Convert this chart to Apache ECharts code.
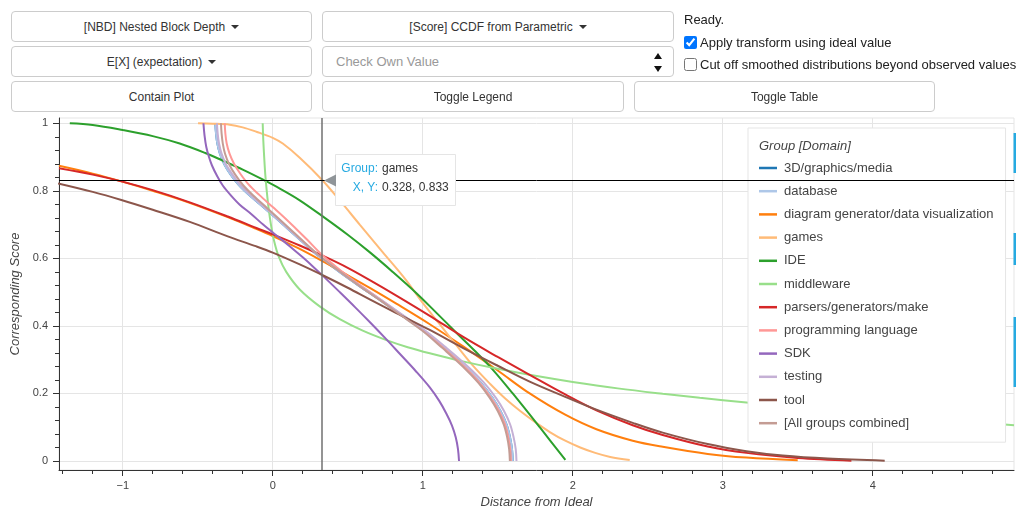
<!DOCTYPE html>
<html>
<head>
<meta charset="utf-8">
<script src="https://cdn.jsdelivr.net/npm/echarts@6/dist/echarts.min.js"></script>
<style>
  html, body { margin: 0; padding: 0; background: #fff; }
  #wrap { position: relative; width: 1019px; height: 507px; overflow: hidden; font-family: "Liberation Sans", Arial, sans-serif; }
  #chart { position: absolute; left: 0; top: 0; width: 1019px; height: 507px; }
  .ctl { position: absolute; z-index: 2; box-sizing: border-box; }
  .btn { border: 1px solid #ccc; border-radius: 4px; background: #fff; color: #333; font-size: 12px;
         display: flex; align-items: center; justify-content: center; }
  .caret { display: inline-block; width: 0; height: 0; margin-left: 6px; border-left: 4px solid transparent;
           border-right: 4px solid transparent; border-top: 4px solid #333; }
  .inp { border: 1px solid #ccc; border-radius: 4px; background: #fff; color: #999; font-size: 13px;
         display: flex; align-items: center; padding-left: 13px; }
  .spin { position: absolute; width: 0; height: 0; border-left: 4px solid transparent; border-right: 4px solid transparent; }
  .txt { position: absolute; z-index: 2; font-size: 13px; color: #222; white-space: nowrap; }
  .cb { position: absolute; z-index: 2; font-size: 13px; color: #222; white-space: nowrap; display: flex; align-items: center; }
  .cb input { margin: 0 3px 0 0; width: 13px; height: 13px; }
</style>
</head>
<body>
<div id="wrap">
  <div id="chart"></div>
  <div class="ctl btn" style="left:11px;top:11px;width:301px;height:31px;">[NBD] Nested Block Depth<span class="caret"></span></div>
  <div class="ctl btn" style="left:322px;top:11px;width:352px;height:31px;">[Score] CCDF from Parametric<span class="caret"></span></div>
  <div class="ctl btn" style="left:11px;top:46px;width:301px;height:31px;">E[X] (expectation)<span class="caret"></span></div>
  <div class="ctl inp" style="left:322px;top:46px;width:352px;height:31px;">Check Own Value
    <span class="spin" style="left:331px;top:6px;border-bottom:6px solid #111;"></span>
    <span class="spin" style="left:331px;top:19px;border-top:6px solid #111;"></span>
  </div>
  <div class="ctl btn" style="left:11px;top:81px;width:301px;height:31px;">Contain Plot</div>
  <div class="ctl btn" style="left:322px;top:81px;width:302px;height:31px;">Toggle Legend</div>
  <div class="ctl btn" style="left:634px;top:81px;width:301px;height:31px;">Toggle Table</div>
  <div class="txt" style="left:684px;top:12px;">Ready.</div>
  <label class="cb" style="left:684px;top:35px;"><input type="checkbox" checked>Apply transform using ideal value</label>
  <label class="cb" style="left:684px;top:57px;"><input type="checkbox">Cut off smoothed distributions beyond observed values</label>
</div>
<script>
// ---- Data ----
const seriesNames = ['3D/graphics/media','database','diagram generator/data visualization','games','IDE','middleware',
  'parsers/generators/make','programming language','SDK','testing','tool','[All groups combined]'];
const seriesColors = ['#1f77b4','#aec7e8','#ff7f0e','#ffbb78','#2ca02c','#98df8a','#d62728','#ff9896','#9467bd','#c5b0d5','#8c564b','#c49c94'];

const graphics3D = [[-0.383,1.0],[-0.378,0.97],[-0.369,0.94],[-0.352,0.91],[-0.322,0.878],[-0.28,0.848],[-0.227,0.818],[-0.153,0.786],[-0.058,0.75],[0.015,0.722],[0.1,0.688],[0.19,0.652],[0.305,0.607],[0.445,0.56],[0.578,0.518],[0.714,0.477],[0.853,0.433],[1.006,0.385],[1.14,0.335],[1.28,0.28],[1.386,0.232],[1.465,0.187],[1.518,0.148],[1.559,0.108],[1.582,0.07],[1.595,0.035],[1.6,0.0]];
const database = [[-0.383,1.0],[-0.378,0.97],[-0.369,0.94],[-0.352,0.91],[-0.322,0.878],[-0.28,0.848],[-0.227,0.818],[-0.153,0.786],[-0.058,0.75],[0.015,0.722],[0.1,0.688],[0.19,0.652],[0.305,0.607],[0.445,0.56],[0.578,0.518],[0.714,0.477],[0.853,0.433],[1.006,0.385],[1.14,0.335],[1.28,0.28],[1.386,0.232],[1.465,0.187],[1.518,0.148],[1.559,0.108],[1.582,0.07],[1.595,0.035],[1.6,0.0]];
const diagramGen = [[-1.425,0.874],[-1.2,0.851],[-1.009,0.828],[-0.8,0.8],[-0.564,0.766],[-0.3,0.722],[-0.12,0.689],[0,0.666],[0.18,0.628],[0.347,0.588],[0.5,0.55],[0.65,0.512],[0.824,0.466],[1.047,0.405],[1.267,0.34],[1.5,0.268],[1.713,0.2],[1.95,0.137],[2.158,0.094],[2.4,0.06],[2.6,0.042],[2.9,0.021],[3.158,0.01],[3.5,0.002]];
const games = [[-0.498,1.0],[-0.4,0.999],[-0.287,0.996],[-0.2,0.988],[-0.109,0.975],[0,0.957],[0.067,0.94],[0.18,0.898],[0.328,0.833],[0.45,0.77],[0.58,0.70],[0.73,0.62],[0.89,0.535],[1.0,0.468],[1.113,0.405],[1.22,0.345],[1.333,0.283],[1.45,0.228],[1.55,0.185],[1.65,0.148],[1.75,0.115],[1.85,0.085],[1.95,0.06],[2.05,0.04],[2.15,0.024],[2.25,0.012],[2.38,0.003]];
const ide = [[-1.353,1.0],[-1.2,0.995],[-1.0,0.98],[-0.8,0.962],[-0.62,0.94],[-0.45,0.912],[-0.331,0.889],[-0.2,0.863],[-0.064,0.833],[0.05,0.806],[0.18,0.772],[0.347,0.72],[0.5,0.67],[0.65,0.617],[0.8,0.56],[0.958,0.497],[1.1,0.435],[1.224,0.38],[1.35,0.325],[1.468,0.27],[1.6,0.2],[1.78,0.1],[1.951,0.003]];
const middleware = [[-0.067,1.0],[-0.063,0.95],[-0.057,0.9],[-0.05,0.85],[-0.04,0.8],[-0.028,0.75],[-0.012,0.7],[0.01,0.65],[0.04,0.605],[0.09,0.56],[0.18,0.508],[0.313,0.458],[0.447,0.42],[0.6,0.386],[0.758,0.358],[0.9,0.337],[1.047,0.319],[1.267,0.295],[1.5,0.273],[1.78,0.25],[2.0,0.234],[2.3,0.215],[2.6,0.199],[2.847,0.187],[3.158,0.173],[3.5,0.158],[4.0,0.138],[4.5,0.121],[4.942,0.106]];
const parsers = [[-1.425,0.867],[-1.2,0.848],[-1.009,0.828],[-0.8,0.802],[-0.553,0.766],[-0.3,0.724],[-0.109,0.69],[0,0.671],[0.18,0.638],[0.347,0.605],[0.5,0.572],[0.65,0.535],[0.824,0.49],[1.047,0.43],[1.267,0.368],[1.5,0.308],[1.713,0.255],[1.95,0.197],[2.158,0.15],[2.4,0.106],[2.6,0.077],[2.9,0.043],[3.158,0.024],[3.5,0.009],[3.858,0.001]];
const progLang = [[-0.32,1.0],[-0.316,0.97],[-0.307,0.94],[-0.288,0.91],[-0.258,0.88],[-0.215,0.85],[-0.163,0.82],[-0.09,0.788],[0.0,0.752],[0.07,0.724],[0.15,0.69],[0.23,0.655],[0.325,0.612],[0.455,0.563],[0.585,0.52],[0.716,0.479],[0.853,0.435],[1.004,0.386],[1.135,0.336],[1.272,0.281],[1.376,0.233],[1.453,0.188],[1.507,0.149],[1.547,0.109],[1.57,0.07],[1.583,0.035],[1.588,0.0]];
const sdk = [[-0.462,1.0],[-0.455,0.965],[-0.443,0.93],[-0.425,0.9],[-0.405,0.875],[-0.37,0.843],[-0.332,0.815],[-0.28,0.787],[-0.22,0.759],[-0.14,0.73],[-0.064,0.70],[0.047,0.66],[0.113,0.636],[0.2,0.603],[0.28,0.571],[0.347,0.543],[0.447,0.5],[0.55,0.455],[0.65,0.41],[0.758,0.36],[0.85,0.316],[0.95,0.268],[1.047,0.218],[1.11,0.178],[1.158,0.14],[1.195,0.105],[1.22,0.07],[1.235,0.035],[1.242,0.0]];
const testing = [[-0.372,1.0],[-0.367,0.97],[-0.358,0.94],[-0.341,0.91],[-0.311,0.878],[-0.268,0.848],[-0.216,0.818],[-0.143,0.786],[-0.05,0.75],[0.022,0.722],[0.106,0.688],[0.195,0.652],[0.31,0.607],[0.45,0.56],[0.585,0.518],[0.722,0.477],[0.865,0.433],[1.02,0.385],[1.158,0.335],[1.3,0.28],[1.408,0.232],[1.488,0.187],[1.542,0.148],[1.583,0.108],[1.606,0.07],[1.62,0.035],[1.625,0.0]];
const tool = [[-1.431,0.822],[-1.2,0.797],[-1.009,0.773],[-0.8,0.744],[-0.553,0.708],[-0.3,0.665],[-0.12,0.637],[0,0.617],[0.18,0.582],[0.347,0.547],[0.5,0.513],[0.65,0.478],[0.824,0.438],[1.047,0.388],[1.267,0.335],[1.5,0.282],[1.713,0.235],[1.95,0.19],[2.158,0.152],[2.4,0.113],[2.6,0.084],[2.9,0.05],[3.158,0.029],[3.4,0.016],[3.7,0.007],[4.08,0.001]];
const combined = [[-0.345,1.0],[-0.341,0.97],[-0.333,0.94],[-0.318,0.91],[-0.29,0.878],[-0.25,0.848],[-0.2,0.818],[-0.13,0.786],[-0.04,0.75],[0.03,0.722],[0.113,0.688],[0.2,0.652],[0.313,0.607],[0.45,0.56],[0.58,0.518],[0.713,0.477],[0.85,0.433],[1.0,0.385],[1.13,0.335],[1.267,0.28],[1.37,0.232],[1.447,0.187],[1.5,0.148],[1.54,0.108],[1.563,0.07],[1.576,0.035],[1.581,0.0]];

const seriesData = [graphics3D, database, diagramGen, games, ide, middleware, parsers, progLang, sdk, testing, tool, combined];

const xMajorTicks = [-1, 0, 1, 2, 3, 4];
const xMinorTicks = [-1.4,-1.2,-0.8,-0.6,-0.4,-0.2,0.2,0.4,0.6,0.8,1.2,1.4,1.6,1.8,2.2,2.4,2.6,2.8,3.2,3.4,3.6,3.8,4.2,4.4,4.6,4.8];
const yMajorTicks = [0, 0.2, 0.4, 0.6, 0.8, 1];
const yMinorTicks = [0.04,0.08,0.12,0.16,0.24,0.28,0.32,0.36,0.44,0.48,0.52,0.56,0.64,0.68,0.72,0.76,0.84,0.88,0.92,0.96];

const hoverPoint = [0.328, 0.833];
const hoverGroup = 'games';

// ---- Chart ----
const FONT = '"Liberation Sans", Arial, sans-serif';
const X_MIN = -1.425, X_MAX = 4.942, Y_MIN = -0.0267, Y_MAX = 1.0157;
const chart = echarts.init(document.getElementById('chart'), null, { renderer: 'canvas' });

function fmtX(v) { return v < 0 ? '\u2212' + Math.abs(v) : String(v); }
function fmtY(v) { return (v === 0 || v === 1) ? String(v) : v.toFixed(1); }

const option = {
  animation: false,
  backgroundColor: 'transparent',
  textStyle: { fontFamily: FONT },
  grid: { left: 59, right: 5, top: 118, bottom: 37, outerBoundsMode: 'none', containLabel: false,
          show: true, borderColor: '#e5e5e5', borderWidth: 1, backgroundColor: 'transparent' },
  xAxis: [{
    type: 'value', min: X_MIN, max: X_MAX, position: 'bottom',
    name: 'Distance from Ideal', nameLocation: 'middle', nameGap: 22,
    nameTextStyle: { fontStyle: 'italic', fontSize: 13, color: '#444', fontFamily: FONT },
    axisLine: { show: true, onZero: false, lineStyle: { color: '#333', width: 1 } },
    axisTick: { show: true, customValues: xMajorTicks, length: 6, inside: false, lineStyle: { color: '#333' } },
    axisLabel: { customValues: xMajorTicks, formatter: fmtX, color: '#444', fontSize: 11, margin: 10, fontFamily: FONT },
    splitLine: { show: true, lineStyle: { color: '#e5e5e5', width: 1 } }
  }, {
    type: 'value', min: X_MIN, max: X_MAX, position: 'bottom', gridIndex: 0,
    axisLine: { show: false, onZero: false },
    axisTick: { show: true, customValues: xMinorTicks, length: 4, inside: false, lineStyle: { color: '#333' } },
    axisLabel: { show: false }, splitLine: { show: false }
  }],
  yAxis: [{
    type: 'value', min: Y_MIN, max: Y_MAX, position: 'left',
    name: 'Corresponding Score', nameLocation: 'middle', nameGap: 35,
    nameTextStyle: { fontStyle: 'italic', fontSize: 13, color: '#444', fontFamily: FONT },
    axisLine: { show: true, onZero: false, lineStyle: { color: '#333', width: 1 } },
    axisTick: { show: true, customValues: yMajorTicks, length: 6, inside: false, lineStyle: { color: '#333' } },
    axisLabel: { customValues: yMajorTicks, formatter: fmtY, color: '#444', fontSize: 11, margin: 11, fontFamily: FONT },
    splitLine: { show: true, lineStyle: { color: '#e5e5e5', width: 1 } }
  }, {
    type: 'value', min: Y_MIN, max: Y_MAX, position: 'left', gridIndex: 0,
    axisLine: { show: false, onZero: false },
    axisTick: { show: true, customValues: yMinorTicks, length: 4, inside: false, lineStyle: { color: '#333' } },
    axisLabel: { show: false }, splitLine: { show: false }
  }],
  legend: {
    orient: 'vertical', left: 748, top: 128,
    padding: [32, 12, 11, 11],
    backgroundColor: '#ffffff', borderColor: '#e5e5e5', borderWidth: 1, borderRadius: 0,
    icon: 'rect', itemWidth: 18, itemHeight: 2.5, itemGap: 7.2,
    selectedMode: false, z: 5,
    textStyle: { fontSize: 13, color: '#444', lineHeight: 16, fontFamily: FONT, padding: [0, 0, 0, 2] },
    data: seriesNames
  },
  series: seriesNames.map((name, i) => ({
    name: name, type: 'line', xAxisIndex: 0, yAxisIndex: 0,
    data: seriesData[i], showSymbol: false, symbol: 'none', smooth: 0.35,
    color: seriesColors[i],
    lineStyle: { color: seriesColors[i], width: 2 },
    emphasis: { disabled: true }, silent: true, z: 2
  }))
};
chart.setOption(option);

// ---- Crosshair + hover tooltip drawn at the data point through the axes' scales ----
const p = chart.convertToPixel({ xAxisIndex: 0, yAxisIndex: 0 }, hoverPoint);
const tl = chart.convertToPixel({ xAxisIndex: 0, yAxisIndex: 0 }, [X_MIN, Y_MAX]);
const br = chart.convertToPixel({ xAxisIndex: 0, yAxisIndex: 0 }, [X_MAX, Y_MIN]);
const px = Math.round(p[0]) , py = Math.round(p[1]) + 0.5;
const bx = px + 13, by = py - 26.5;
chart.setOption({
  graphic: [
    { type: 'text', left: 759, top: 140, z: 10, style: { text: 'Group [Domain]', font: 'italic 13px ' + FONT, fill: '#444' } },
    { type: 'line', z: 100, shape: { x1: px, y1: tl[1], x2: px, y2: br[1] }, style: { stroke: '#707070', lineWidth: 1.5 } },
    { type: 'line', z: 100, shape: { x1: tl[0], y1: py, x2: br[0], y2: py }, style: { stroke: '#000', lineWidth: 1 } },
    { type: 'rect', z: 101, shape: { x: bx + 0.5, y: by + 0.5, width: 120, height: 51 }, style: { fill: '#fff', stroke: '#e5e5e5', lineWidth: 1 } },
    { type: 'polygon', z: 102, shape: { points: [[px + 2, py], [bx + 1, py - 6], [bx + 1, py + 6]] }, style: { fill: '#909599' } },
    { type: 'text', z: 103, x: bx + 43, y: by + 15, style: { text: 'Group:', font: '12px ' + FONT, fill: '#26aae1', align: 'right', verticalAlign: 'middle' } },
    { type: 'text', z: 103, x: bx + 47, y: by + 15, style: { text: hoverGroup, font: '12px ' + FONT, fill: '#333', verticalAlign: 'middle' } },
    { type: 'text', z: 103, x: bx + 43, y: by + 34, style: { text: 'X, Y:', font: '12px ' + FONT, fill: '#26aae1', align: 'right', verticalAlign: 'middle' } },
    { type: 'text', z: 103, x: bx + 47, y: by + 34, style: { text: hoverPoint[0].toFixed(3) + ', ' + hoverPoint[1].toFixed(3), font: '12px ' + FONT, fill: '#333', verticalAlign: 'middle' } },
    { type: 'rect', z: 5, shape: { x: 1013.5, y: 133, width: 2.5, height: 40 }, style: { fill: '#26aae1' } },
    { type: 'rect', z: 5, shape: { x: 1013.5, y: 233, width: 2.5, height: 32 }, style: { fill: '#26aae1' } },
    { type: 'rect', z: 5, shape: { x: 1013.5, y: 317, width: 2.5, height: 70 }, style: { fill: '#26aae1' } }
  ]
});
</script>
</body>
</html>
